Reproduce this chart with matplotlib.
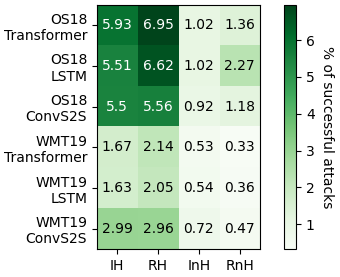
import matplotlib

matplotlib.use("Agg")
import matplotlib.pyplot as plt
import numpy as np

models = ["OS18\nTransformer", "OS18\nLSTM", "OS18\nConvS2S",
          "WMT19\nTransformer", "WMT19\nLSTM", "WMT19\nConvS2S"]
attacks = ["IH", "RH", "InH", "RnH"]

col_ih = [5.93, 5.51, 5.5, 1.67, 1.63, 2.99]
col_rh = [6.95, 6.62, 5.56, 2.14, 2.05, 2.96]
col_inh = [1.02, 1.02, 0.92, 0.53, 0.54, 0.72]
col_rnh = [1.36, 2.27, 1.18, 0.33, 0.36, 0.47]

vals = np.array([col_ih, col_rh, col_inh, col_rnh]).T

fig = plt.figure(figsize=(3.4, 2.77), dpi=100)
ax = fig.add_axes([0.285, 0.101, 0.48, 0.881])
cax = fig.add_axes([0.835, 0.101, 0.036, 0.881])

im = ax.imshow(vals, cmap="Greens", aspect="auto")
ax.set_xticks(range(len(attacks)))
ax.set_xticklabels(attacks)
ax.set_yticks(range(len(models)))
ax.set_yticklabels(models)

thresh = (vals.max() + vals.min()) / 2
for i in range(vals.shape[0]):
    for j in range(vals.shape[1]):
        v = vals[i, j]
        ax.text(j, i, f"{v:g}", ha="center", va="center",
                color="white" if v > thresh else "black", fontsize=10)

cb = fig.colorbar(im, cax=cax)
cb.set_label("% of successful attacks", rotation=270, labelpad=14)

fig.savefig("out.png", dpi=100)
